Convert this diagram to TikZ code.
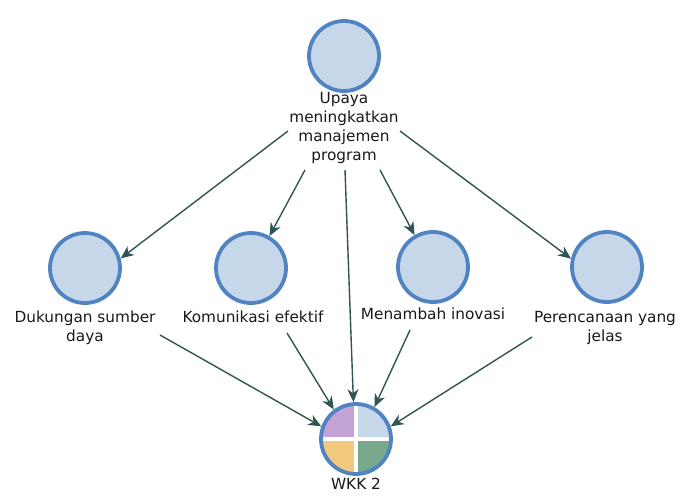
\documentclass[tikz,border=0pt]{standalone}
\usepackage{fontspec}
\setmainfont{DejaVu Sans}
\usetikzlibrary{arrows.meta,calc}
\definecolor{cfill}{HTML}{C6D7EA}
\definecolor{cborder}{HTML}{4F83C2}
\definecolor{carrow}{HTML}{2F5652}
\definecolor{qpurple}{HTML}{C2A2D7}
\definecolor{qblue}{HTML}{C6D7EA}
\definecolor{qorange}{HTML}{F2C97E}
\definecolor{qgreen}{HTML}{78A98C}
\begin{document}
\begin{tikzpicture}[x=1pt,y=-1pt,
  circ/.style={circle, draw=cborder, fill=cfill, line width=3.8pt, minimum size=70pt, inner sep=0pt},
  lbl/.style={font=\fontsize{15.3}{19}\selectfont, align=center, inner sep=0pt, anchor=north, text=black!90},
  conn/.style={draw=carrow, line width=1.4pt, -{Stealth[length=13pt,width=11pt,inset=4pt]}}]
\useasboundingbox (0,0) rectangle (682,495);
% top
\node[circ] (t) at (344,56) {};
\node[lbl] (tl) at (344,92) {Upaya\\meningkatkan\\manajemen\\program};
% row 2
\node[circ] (d) at (85,268) {};
\node[lbl] (dl) at (85,311) {Dukungan sumber\\daya};
\node[circ] (k) at (251,268) {};
\node[lbl] (kl) at (253,311) {Komunikasi efektif};
\node[circ] (m) at (433,267) {};
\node[lbl] (ml) at (433,308) {Menambah inovasi};
\node[circ] (p) at (607,267) {};
\node[lbl] (pl) at (605,311) {Perencanaan yang\\jelas};
% WKK 2
\coordinate (wc) at (356,439);
\begin{scope}
  \clip (wc) circle (35);
  \fill[qpurple] (wc) rectangle ++(-40,-40);
  \fill[qblue] (wc) rectangle ++(40,-40);
  \fill[qorange] (wc) rectangle ++(-40,40);
  \fill[qgreen] (wc) rectangle ++(40,40);
  \draw[white, line width=3.5pt] ($(wc)+(-40,0)$) -- ++(80,0);
  \draw[white, line width=3.5pt] ($(wc)+(0,-40)$) -- ++(0,80);
\end{scope}
\node[circ, fill=none] (w) at (wc) {};
\node[lbl] (wl) at (356,478) {WKK 2};
% connector start points
\coordinate (s1) at (288,131);
\coordinate (s2) at (305,170);
\coordinate (s3) at (345,170);
\coordinate (s4) at (380,170);
\coordinate (s5) at (400,131);
\coordinate (b1) at (160,335);
\coordinate (b2) at (287,333);
\coordinate (b3) at (410,330);
\coordinate (b4) at (532,337);
% connectors
\draw[conn] (s1) -- (d.15);
\draw[conn] (s2) -- (k.60);
\draw[conn] (s3) -- (w.94);
\draw[conn] (s4) -- (m.120);
\draw[conn] (s5) -- (p.167);
\draw[conn] (b1) -- (w.160);
\draw[conn] (b2) -- (w.127);
\draw[conn] (b3) -- (w.60);
\draw[conn] (b4) -- (w.20);
\end{tikzpicture}
\end{document}
